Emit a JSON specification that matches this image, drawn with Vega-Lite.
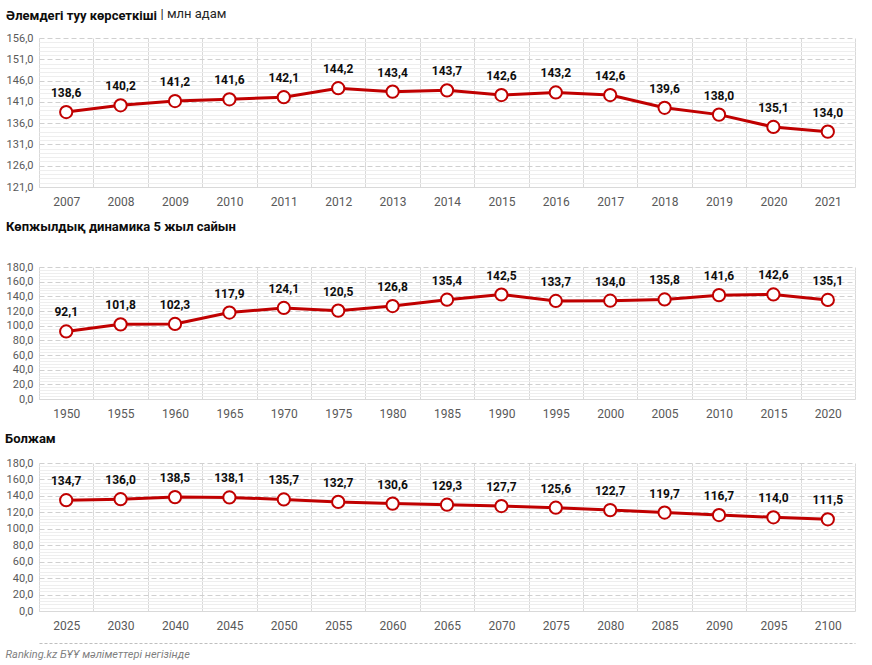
{
  "$schema": "https://vega.github.io/schema/vega-lite/v6.json",
  "padding": {"left": 5, "top": 7, "right": 10, "bottom": 5},
  "spacing": 14,
  "config": {
    "view": {"stroke": null},
    "font": "Roboto",
    "locale": {"number": {"decimal": ",", "thousands": " ", "grouping": [3], "currency": ["", ""]}},
    "title": {"anchor": "start", "fontSize": 13, "fontWeight": "bold", "color": "#0d0d0d", "font": "Roboto"},
    "axis": {"labelFont": "Roboto", "labelColor": "#595959", "labelFontSize": 11}
  },
  "datasets": {
    "d1": [
      {"year": "2007", "v": 138.6}, {"year": "2008", "v": 140.2}, {"year": "2009", "v": 141.2},
      {"year": "2010", "v": 141.6}, {"year": "2011", "v": 142.1}, {"year": "2012", "v": 144.2},
      {"year": "2013", "v": 143.4}, {"year": "2014", "v": 143.7}, {"year": "2015", "v": 142.6},
      {"year": "2016", "v": 143.2}, {"year": "2017", "v": 142.6}, {"year": "2018", "v": 139.6},
      {"year": "2019", "v": 138.0}, {"year": "2020", "v": 135.1}, {"year": "2021", "v": 134.0}
    ],
    "d2": [
      {"year": "1950", "v": 92.1}, {"year": "1955", "v": 101.8}, {"year": "1960", "v": 102.3},
      {"year": "1965", "v": 117.9}, {"year": "1970", "v": 124.1}, {"year": "1975", "v": 120.5},
      {"year": "1980", "v": 126.8}, {"year": "1985", "v": 135.4}, {"year": "1990", "v": 142.5},
      {"year": "1995", "v": 133.7}, {"year": "2000", "v": 134.0}, {"year": "2005", "v": 135.8},
      {"year": "2010", "v": 141.6}, {"year": "2015", "v": 142.6}, {"year": "2020", "v": 135.1}
    ],
    "d3": [
      {"year": "2025", "v": 134.7}, {"year": "2030", "v": 136.0}, {"year": "2040", "v": 138.5},
      {"year": "2045", "v": 138.1}, {"year": "2050", "v": 135.7}, {"year": "2055", "v": 132.7},
      {"year": "2060", "v": 130.6}, {"year": "2065", "v": 129.3}, {"year": "2070", "v": 127.7},
      {"year": "2075", "v": 125.6}, {"year": "2080", "v": 122.7}, {"year": "2085", "v": 119.7},
      {"year": "2090", "v": 116.7}, {"year": "2095", "v": 114.0}, {"year": "2100", "v": 111.5}
    ]
  },
  "vconcat": [
    {
      "title": {"text": "Әлемдегі туу көрсеткіші", "offset": -16},
      "width": 816, "height": 149,
      "data": {"name": "d1"},
      "encoding": {
        "x": {"field": "year", "type": "ordinal", "sort": null, "bandPosition": 0.5,
          "scale": {"type": "band", "paddingInner": 0, "paddingOuter": 0},
          "axis": {"title": null, "labelAngle": 0, "ticks": false, "tickBand": "extent", "grid": true, "gridColor": "#d9d9d9", "domainColor": "#d9d9d9", "labelPadding": 9, "labelFontSize": 12}},
        "y": {"field": "v", "type": "quantitative", "scale": {"domain": [121, 156], "nice": false, "zero": false},
          "axis": {"title": "| млн адам", "titleAngle": 0, "titleAlign": "left", "titleBaseline": "middle", "titleX": 121, "titleY": -25, "titleFontWeight": "normal", "titleFontSize": 13, "titleColor": "#262626", "titleFont": "Roboto",
            "values": [121,122,123,124,125,126,127,128,129,130,131,132,133,134,135,136,137,138,139,140,141,142,143,144,145,146,147,148,149,150,151,152,153,154,155,156],
            "domain": false, "ticks": false, "labelPadding": 6, "labelOverlap": false,
            "labelExpr": "(datum.value - 121) % 5 === 0 ? replace(format(datum.value, '.1f'), '.', ',') : ''",
            "gridColor": {"condition": {"test": "(datum.value - 121) % 5 === 0", "value": "#d0d0d0"}, "value": "#eeeeee"},
            "gridDash": {"condition": {"test": "(datum.value - 121) % 5 === 0", "value": [5, 3]}, "value": []}}}
      },
      "layer": [
        {"mark": {"type": "line", "color": "#c00000", "strokeWidth": 3}},
        {"mark": {"type": "point", "shape": "circle", "filled": true, "fill": "white", "stroke": "#c00000", "strokeWidth": 2, "size": 150, "opacity": 1}},
        {"mark": {"type": "text", "dy": -19, "fontWeight": "bold", "fontSize": 12, "color": "#0d0d0d"},
          "encoding": {"text": {"field": "v", "type": "quantitative", "format": ".1f"}}}
      ]
    },
    {
      "title": {"text": "Көпжылдық динамика 5 жыл сайын", "offset": 27},
      "width": 816, "height": 132,
      "data": {"name": "d2"},
      "encoding": {
        "x": {"field": "year", "type": "ordinal", "sort": null, "bandPosition": 0.5,
          "scale": {"type": "band", "paddingInner": 0, "paddingOuter": 0},
          "axis": {"title": null, "labelAngle": 0, "ticks": false, "tickBand": "extent", "grid": true, "gridColor": "#d9d9d9", "domainColor": "#d9d9d9", "labelPadding": 9, "labelFontSize": 12}},
        "y": {"field": "v", "type": "quantitative", "scale": {"domain": [0, 180], "nice": false, "zero": true},
          "axis": {"title": null,
            "values": [0,4,8,12,16,20,24,28,32,36,40,44,48,52,56,60,64,68,72,76,80,84,88,92,96,100,104,108,112,116,120,124,128,132,136,140,144,148,152,156,160,164,168,172,176,180],
            "domain": false, "ticks": false, "labelPadding": 6, "labelOverlap": false,
            "labelExpr": "datum.value % 20 === 0 ? replace(format(datum.value, '.1f'), '.', ',') : ''",
            "gridColor": {"condition": {"test": "datum.value % 20 === 0", "value": "#d0d0d0"}, "value": "#eeeeee"},
            "gridDash": {"condition": {"test": "datum.value % 20 === 0", "value": [5, 3]}, "value": []}}}
      },
      "layer": [
        {"mark": {"type": "line", "color": "#c00000", "strokeWidth": 3}},
        {"mark": {"type": "point", "shape": "circle", "filled": true, "fill": "white", "stroke": "#c00000", "strokeWidth": 2, "size": 150, "opacity": 1}},
        {"mark": {"type": "text", "dy": -19, "fontWeight": "bold", "fontSize": 12, "color": "#0d0d0d"},
          "encoding": {"text": {"field": "v", "type": "quantitative", "format": ".1f"}}}
      ]
    },
    {
      "title": {"text": "Болжам", "offset": 11},
      "width": 816, "height": 148,
      "data": {"name": "d3"},
      "resolve": {"axis": {"x": "independent"}},
      "encoding": {
        "y": {"field": "v", "type": "quantitative", "scale": {"domain": [0, 180], "nice": false, "zero": true},
          "axis": {"title": null,
            "values": [0,4,8,12,16,20,24,28,32,36,40,44,48,52,56,60,64,68,72,76,80,84,88,92,96,100,104,108,112,116,120,124,128,132,136,140,144,148,152,156,160,164,168,172,176,180],
            "domain": false, "ticks": false, "labelPadding": 6, "labelOverlap": false,
            "labelExpr": "datum.value % 20 === 0 ? replace(format(datum.value, '.1f'), '.', ',') : ''",
            "gridColor": {"condition": {"test": "datum.value % 20 === 0", "value": "#d0d0d0"}, "value": "#eeeeee"},
            "gridDash": {"condition": {"test": "datum.value % 20 === 0", "value": [5, 3]}, "value": []}}}
      },
      "layer": [
        {"mark": {"type": "line", "color": "#c00000", "strokeWidth": 3},
          "encoding": {
            "x": {"field": "year", "type": "ordinal", "sort": null, "bandPosition": 0.5,
              "scale": {"type": "band", "paddingInner": 0, "paddingOuter": 0},
              "axis": {"title": null, "labelAngle": 0, "ticks": false, "tickBand": "extent", "grid": true, "gridColor": "#d9d9d9", "domainColor": "#d9d9d9", "labelPadding": 9, "labelFontSize": 12}}}},
        {"mark": {"type": "point", "shape": "circle", "filled": true, "fill": "white", "stroke": "#c00000", "strokeWidth": 2, "size": 150, "opacity": 1},
          "encoding": {
            "x": {"field": "year", "type": "ordinal", "sort": null, "bandPosition": 0.5, "axis": null}}},
        {"mark": {"type": "text", "dy": -19, "fontWeight": "bold", "fontSize": 12, "color": "#0d0d0d"},
          "encoding": {
            "x": {"field": "year", "type": "ordinal", "sort": null, "bandPosition": 0.5,
              "axis": {"orient": "bottom", "offset": 32, "labels": false, "ticks": false, "grid": false, "domain": true, "domainDash": [3, 2], "domainColor": "#bfbfbf", "domainWidth": 1,
                "title": "Ranking.kz БҰҰ мәліметтері негізінде", "titleAnchor": "start", "titleAlign": "left", "titleBaseline": "middle", "titleX": -34, "titleY": 11, "titleFontStyle": "italic", "titleFontWeight": "normal", "titleFontSize": 11, "titleColor": "#7f7f7f", "titleFont": "Roboto"}},
            "text": {"field": "v", "type": "quantitative", "format": ".1f"}}}
      ]
    }
  ]
}
